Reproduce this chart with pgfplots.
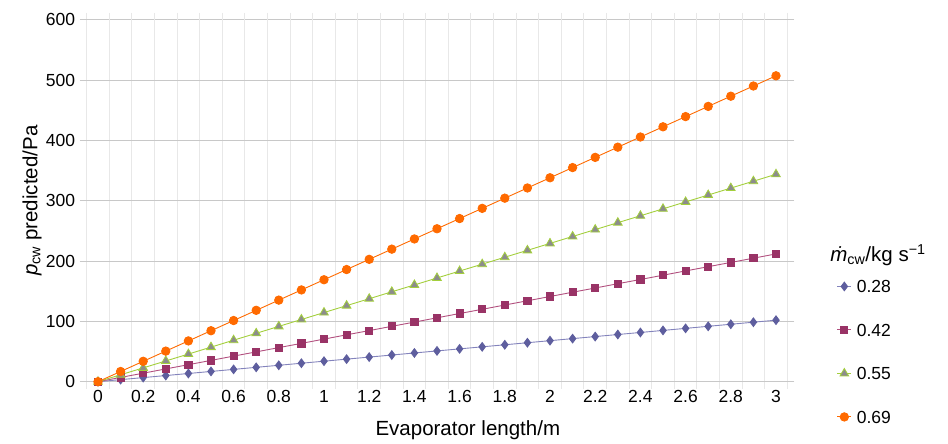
\documentclass[border=0pt]{standalone}
\usepackage{fontspec}
\setmainfont{Liberation Sans}
\usepackage{pgfplots}
\pgfplotsset{compat=1.18}
\definecolor{cblue}{HTML}{5E5E9E}
\definecolor{cbluel}{HTML}{8383BC}
\definecolor{cmag}{HTML}{993366}
\definecolor{cmagl}{HTML}{B2507F}
\definecolor{cgreen}{HTML}{A3CF3C}
\definecolor{cgray}{HTML}{8C8C8C}
\definecolor{corange}{HTML}{FF6A00}
\definecolor{gridmaj}{HTML}{C8C8C8}
\definecolor{gridmin}{HTML}{E8E8E8}
\begin{document}
\begin{tikzpicture}
\path[use as bounding box] (0,0) rectangle (948pt,444pt);
\begin{axis}[
  at={(86.7pt,62.3pt)}, anchor=south west,
  width=700.6pt, height=362pt, scale only axis,
  xmin=-0.05, xmax=3.05, ymin=0, ymax=600,
  xtick={0,0.2,0.4,0.6,0.8,1,1.2,1.4,1.6,1.8,2,2.2,2.4,2.6,2.8,3},
  xticklabels={0,0.2,0.4,0.6,0.8,1,1.2,1.4,1.6,1.8,2,2.2,2.4,2.6,2.8,3},
  minor xtick={-0.05,0.05,0.15,0.25,0.35,0.45,0.55,0.65,0.75,0.85,0.95,1.05,1.15,1.25,1.35,1.45,1.55,1.65,1.75,1.85,1.95,2.05,2.15,2.25,2.35,2.45,2.55,2.65,2.75,2.85,2.95,3.05},
  ytick={0,100,200,300,400,500,600},
  axis line style={draw=none},
  ymajorgrids, xminorgrids, xmajorgrids=false,
  major grid style={draw=gridmaj, line width=0.9pt},
  minor grid style={draw=gridmin, line width=0.9pt},
  tick align=outside,
  major tick length=7pt, minor tick length=7pt,
  xtick style={draw=none},
  minor x tick style={draw=gridmin, line width=0.9pt},
  ytick style={draw=gridmaj, line width=0.9pt},
  tick label style={font=\fontsize{17.5}{20}\selectfont},
  /pgf/number format/assume math mode=true,
  xticklabel style={yshift=2pt},
  yticklabel style={xshift=-1pt},
  xlabel={Evaporator length/m},
  ylabel={\textit{p}\textsubscript{cw} predicted/Pa},
  label style={font=\fontsize{20.5}{24}\selectfont},
  xlabel style={at={(axis description cs:0.544,-0.133)}, anchor=center},
  ylabel style={at={(axis description cs:-0.078,0.5)}, anchor=center},
  legend image code/.code={\draw[mark repeat=2,mark phase=2,#1] plot coordinates {(0pt,0pt)(7pt,0pt)(14pt,0pt)};},
  legend style={draw=none, fill=none, at={(axis description cs:1.0705,0.2865)}, anchor=north west,
    inner sep=0pt, row sep=27pt, column sep=3pt, cells={anchor=west},
    nodes={text height=12.5pt, text depth=0pt, inner sep=2pt},
    font=\fontsize{17.5}{20}\selectfont},
  legend cell align=left,
]
\addplot[cbluel, line width=0.9pt, mark=diamond*, mark size=4.3pt, mark options={fill=cblue, draw=cblue}] coordinates {
(0,0)(0.1,3.4)(0.2,6.8)(0.3,10.2)(0.4,13.6)(0.5,17.0)(0.6,20.4)(0.7,23.8)(0.8,27.2)(0.9,30.6)(1.0,34.0)
(1.1,37.4)(1.2,40.8)(1.3,44.2)(1.4,47.6)(1.5,51.0)(1.6,54.4)(1.7,57.8)(1.8,61.2)(1.9,64.6)(2.0,68.0)
(2.1,71.4)(2.2,74.8)(2.3,78.2)(2.4,81.6)(2.5,85.0)(2.6,88.4)(2.7,91.8)(2.8,95.2)(2.9,98.6)(3.0,102.0)};
\addlegendentry{0.28}
\addplot[cmagl, line width=0.9pt, mark=square*, mark size=3.6pt, mark options={fill=cmag, draw=cmag}] coordinates {
(0,0)(0.1,7.1)(0.2,14.1)(0.3,21.2)(0.4,28.2)(0.5,35.3)(0.6,42.4)(0.7,49.4)(0.8,56.5)(0.9,63.5)(1.0,70.6)
(1.1,77.7)(1.2,84.7)(1.3,91.8)(1.4,98.8)(1.5,105.9)(1.6,113.0)(1.7,120.0)(1.8,127.1)(1.9,134.1)(2.0,141.2)
(2.1,148.3)(2.2,155.3)(2.3,162.4)(2.4,169.4)(2.5,176.5)(2.6,183.6)(2.7,190.6)(2.8,197.7)(2.9,204.7)(3.0,211.8)};
\addlegendentry{0.42}
\addplot[cgreen, line width=0.9pt, mark=triangle*, mark size=5pt, mark options={fill=cgray, draw=cgreen, line width=0.8pt}] coordinates {
(0,0)(0.1,11.5)(0.2,22.9)(0.3,34.4)(0.4,45.8)(0.5,57.3)(0.6,68.8)(0.7,80.2)(0.8,91.7)(0.9,103.1)(1.0,114.6)
(1.1,126.1)(1.2,137.5)(1.3,149.0)(1.4,160.4)(1.5,171.9)(1.6,183.4)(1.7,194.8)(1.8,206.3)(1.9,217.7)(2.0,229.2)
(2.1,240.7)(2.2,252.1)(2.3,263.6)(2.4,275.0)(2.5,286.5)(2.6,298.0)(2.7,309.4)(2.8,320.9)(2.9,332.3)(3.0,343.8)};
\addlegendentry{0.55}
\addplot[corange, line width=0.9pt, mark=*, mark size=4.2pt, mark options={fill=corange, draw=corange}] coordinates {
(0,0)(0.1,16.9)(0.2,33.8)(0.3,50.7)(0.4,67.6)(0.5,84.5)(0.6,101.4)(0.7,118.3)(0.8,135.2)(0.9,152.1)(1.0,169.0)
(1.1,185.9)(1.2,202.8)(1.3,219.7)(1.4,236.6)(1.5,253.5)(1.6,270.4)(1.7,287.3)(1.8,304.2)(1.9,321.1)(2.0,338.0)
(2.1,354.9)(2.2,371.8)(2.3,388.7)(2.4,405.6)(2.5,422.5)(2.6,439.4)(2.7,456.3)(2.8,473.2)(2.9,490.1)(3.0,507.0)};
\addlegendentry{0.69}
\end{axis}
\node[anchor=center, font=\fontsize{20.5}{24}\selectfont] at (878pt,189pt) {\textit{ṁ}\textsubscript{cw}/kg s\textsuperscript{−1}};
\end{tikzpicture}
\end{document}
